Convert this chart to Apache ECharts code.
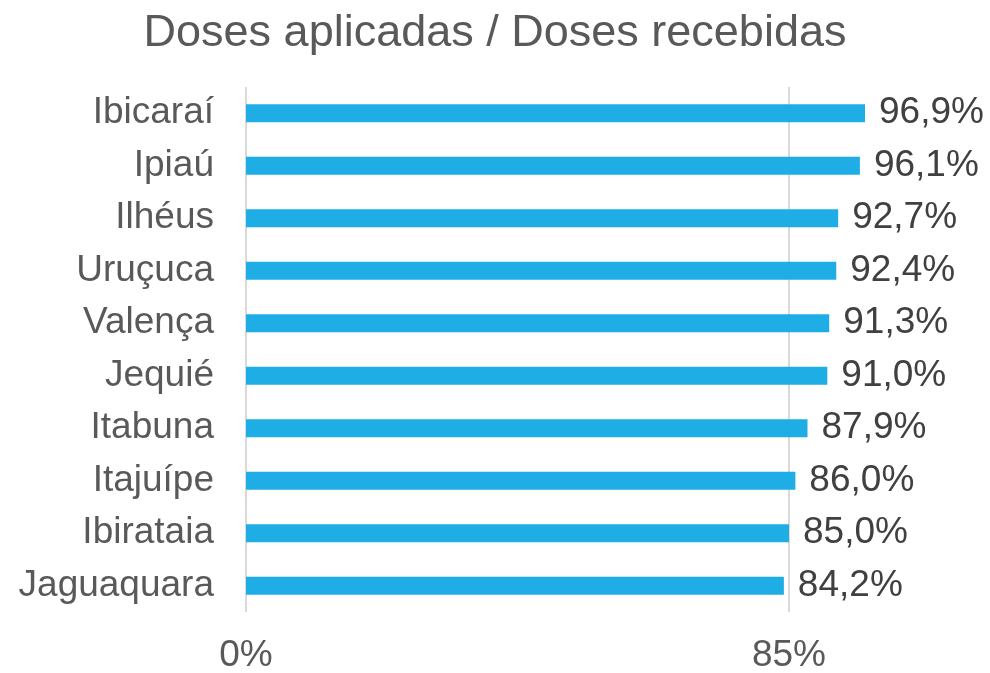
<!DOCTYPE html>
<html>
<head>
<meta charset="utf-8">
<script src="https://cdn.jsdelivr.net/npm/echarts@6/dist/echarts.min.js"></script>
<style>
html,body{margin:0;padding:0;background:#fff;}
#chart{width:990px;height:673px;}
</style>
</head>
<body>
<div id="chart"></div>
<script>
const titleText = 'Doses aplicadas / Doses recebidas';
const categories = ['Ibicaraí','Ipiaú','Ilhéus','Uruçuca','Valença','Jequié','Itabuna','Itajuípe','Ibirataia','Jaguaquara'];
const values = [96.9, 96.1, 92.7, 92.4, 91.3, 91.0, 87.9, 86.0, 85.0, 84.2];
const axisMin = 0;
const axisMax = 100;
const axisInterval = 85;

const FONT = '"Liberation Sans", Arial, sans-serif';
const chart = echarts.init(document.getElementById('chart'), null, {renderer: 'canvas'});
chart.setOption({
  animation: false,
  backgroundColor: '#ffffff',
  title: {
    text: titleText,
    left: 'center',
    top: 6,
    textStyle: {fontFamily: FONT, fontSize: 45, fontWeight: 'normal', color: '#595959'}
  },
  grid: {left: 246, right: 105.2, top: 87, bottom: 61, containLabel: false, outerBoundsMode: 'none'},
  xAxis: {
    type: 'value',
    min: axisMin,
    max: axisMax,
    interval: axisInterval,
    axisLine: {show: false},
    axisTick: {show: false},
    axisLabel: {
      fontFamily: FONT, fontSize: 37, color: '#595959', margin: 25,
      showMaxLabel: false,
      formatter: function (v) { return v + '%'; }
    },
    splitLine: {show: true, showMaxLine: false, lineStyle: {color: '#D9D9D9', width: 2}}
  },
  yAxis: {
    type: 'category',
    data: categories,
    inverse: true,
    axisLine: {show: false},
    axisTick: {show: false},
    axisLabel: {fontFamily: FONT, fontSize: 37, color: '#595959', margin: 32}
  },
  series: [{
    type: 'bar',
    data: values,
    barWidth: 18,
    itemStyle: {color: '#1EADE4'},
    label: {
      show: true,
      position: 'right',
      distance: 14,
      fontFamily: FONT,
      fontSize: 37,
      color: '#404040',
      formatter: function (p) { return p.value.toFixed(1).replace('.', ',') + '%'; }
    }
  }]
});
</script>
</body>
</html>
